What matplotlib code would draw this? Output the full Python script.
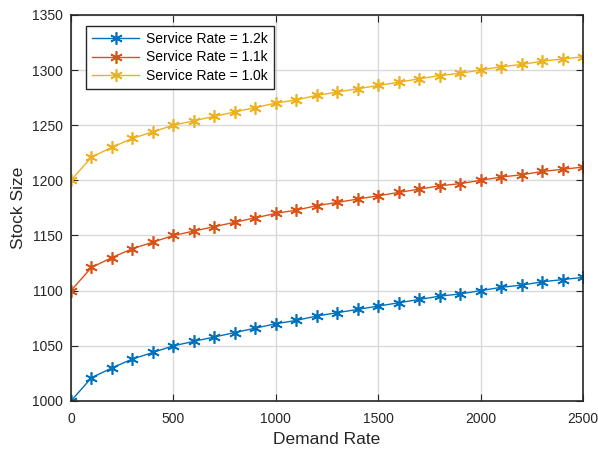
import numpy as np
import matplotlib.pyplot as plt

plt.rcParams['font.family'] = ['Liberation Sans', 'DejaVu Sans']

demand = [0, 100, 200, 300, 400, 500, 600, 700, 800, 900, 1000, 1100, 1200,
          1300, 1400, 1500, 1600, 1700, 1800, 1900, 2000, 2100, 2200, 2300,
          2400, 2500]
stock_12k = [1000, 1021, 1030, 1038, 1044, 1050, 1054, 1058, 1062, 1066, 1070,
             1073, 1077, 1080, 1083, 1086, 1089, 1092, 1095, 1097, 1100, 1103,
             1105, 1108, 1110, 1112]
stock_11k = [1100, 1121, 1130, 1138, 1144, 1150, 1154, 1158, 1162, 1166, 1170,
             1173, 1177, 1180, 1183, 1186, 1189, 1192, 1195, 1197, 1200, 1203,
             1205, 1208, 1210, 1212]
stock_10k = [1200, 1221, 1230, 1238, 1244, 1250, 1254, 1258, 1262, 1266, 1270,
             1273, 1277, 1280, 1283, 1286, 1289, 1292, 1295, 1297, 1300, 1303,
             1305, 1308, 1310, 1312]
labels = ['Service Rate = 1.2k', 'Service Rate = 1.1k', 'Service Rate = 1.0k']
colors = ['#0072BD', '#D95319', '#EDB120']

fig = plt.figure(figsize=(5.98, 4.5), dpi=100)
ax = fig.add_axes([0.1187, 0.109, 0.8563, 0.858])

asterisk = (6, 2, 0)
for ys, lab, c in zip([stock_12k, stock_11k, stock_10k], labels, colors):
    ax.plot(demand, ys, color=c, lw=1, marker=asterisk, ms=9, mew=1.2, label=lab)

ax.set_xlim(0, 2500)
ax.set_ylim(1000, 1350)
ax.set_xticks(np.arange(0, 2501, 500))
ax.set_yticks(np.arange(1000, 1351, 50))
ax.grid(True, color='#d9d9d9', lw=1)
ax.set_axisbelow(True)
ax.tick_params(direction='in', top=True, right=True, labelsize=10, colors='#262626', length=5)
ax.tick_params(axis='x', pad=8)
ax.tick_params(axis='y', pad=6)
for s in ax.spines.values():
    s.set_color('#262626')
    s.set_linewidth(1.2)
ax.set_xlabel('Demand Rate', fontsize=12.5, color='#262626', labelpad=4)
ax.set_ylabel('Stock Size', fontsize=12.5, color='#262626', labelpad=4)

leg = ax.legend(loc='upper left', bbox_to_anchor=(0.029, 0.971), borderaxespad=0,
                fontsize=10, fancybox=False, edgecolor='#262626', framealpha=1,
                handlelength=3.4, handletextpad=0.5, borderpad=0.45,
                labelspacing=0.3)
leg.get_frame().set_linewidth(1)

fig.savefig('out.png', dpi=100)
